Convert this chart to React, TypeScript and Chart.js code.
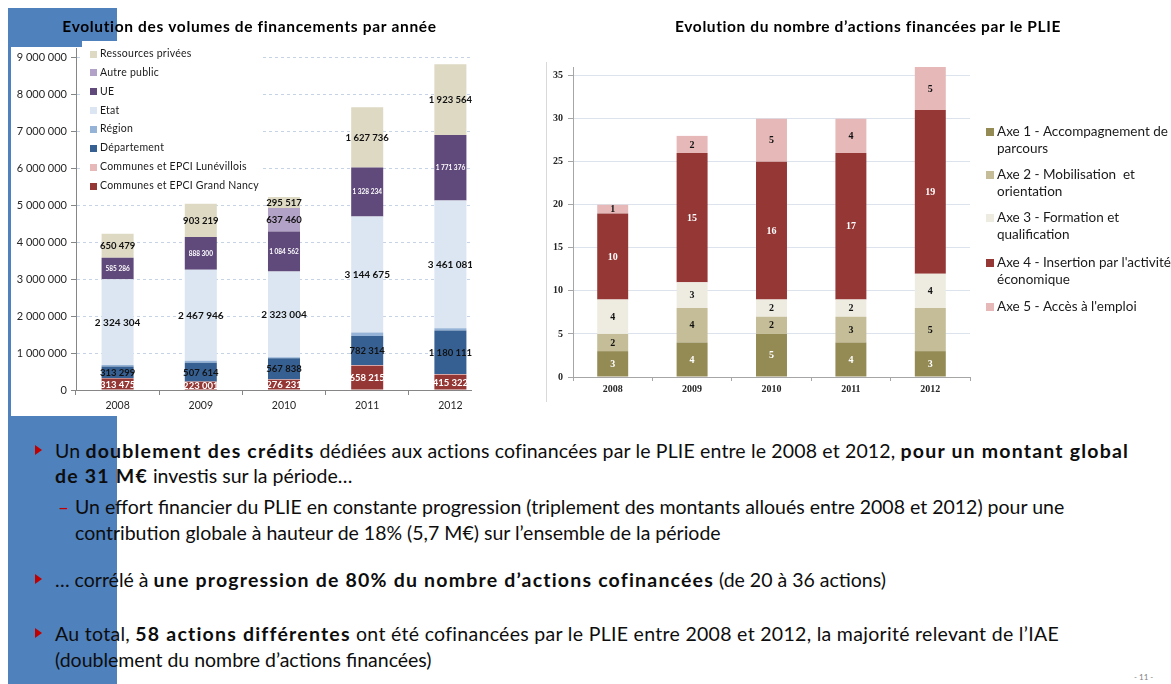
import React, { useEffect, useRef } from 'react';
import { Chart, registerables } from 'chart.js';

Chart.register(...registerables);

// ---------- DATA ----------
const years = ['2008', '2009', '2010', '2011', '2012'];

// Left chart: funding volumes (stack order bottom -> top)
const fundingNames = [
  'Communes et EPCI Grand Nancy',
  'Communes et EPCI Lunévillois',
  'Département',
  'Région',
  'Etat',
  'UE',
  'Autre public',
  'Ressources privées',
];
const grandNancy = [313475, 223001, 276231, 658215, 415322];
const luneville = [10000, 10000, 15000, 20000, 20000];
const departement = [313299, 507614, 567838, 782314, 1180111];
const region = [40000, 50000, 30000, 100000, 60000];
const etat = [2324304, 2467946, 2323004, 3144675, 3461081];
const ue = [585286, 888300, 1084562, 1328234, 1771376];
const autrePublic = [0, 0, 637460, 0, 0];
const ressourcesPrivees = [650479, 903219, 295517, 1627736, 1923564];
const fundingMax = 9250000;
const fundingTicks = [0, 1000000, 2000000, 3000000, 4000000, 5000000, 6000000, 7000000, 8000000, 9000000];

// Right chart: number of actions (stack order bottom -> top)
const axeNames = [
  'Axe 1 - Accompagnement de\nparcours',
  'Axe 2 - Mobilisation  et\norientation',
  'Axe 3 - Formation et\nqualification',
  "Axe 4 - Insertion par l'activité\néconomique",
  "Axe 5 - Accès à l'emploi",
];
const axe1 = [3, 4, 5, 4, 3];
const axe2 = [2, 4, 2, 3, 5];
const axe3 = [4, 3, 2, 2, 4];
const axe4 = [10, 15, 16, 17, 19];
const axe5 = [1, 2, 5, 4, 5];
const actionsMax = 36;
const actionsTicks = [0, 5, 10, 15, 20, 25, 30, 35];

const leftTitle = 'Evolution des volumes de financements par année';
const rightTitle = 'Evolution du nombre d’actions financées par le PLIE';

// ---------- HELPERS ----------
const fmt = (n: number) => String(Math.round(n)).replace(/\B(?=(\d{3})+(?!\d))/g, ' ');

type LabelStyle = { color: string; font: string } | null;
type DecorSpec = {
  title: { text: string; x: number; y: number; font: string; color: string; spacing: number };
  legend: {
    items: { text: string; color: string }[];
    boxX: number;
    boxSize: number;
    textX: number;
    rows: number[];
    lineGap: number;
    font: string;
    color: string;
    spacing: number;
    bg?: { x: number; y: number; w: number; h: number };
  };
  labels: LabelStyle[];
  format: (v: number) => string;
};

function makeDecor(spec: DecorSpec) {
  return {
    id: 'decor',
    beforeDatasetsDraw(chart: any) {
      const ctx = chart.ctx;
      const lg = spec.legend;
      ctx.save();
      if (lg.bg) {
        ctx.fillStyle = '#ffffff';
        ctx.fillRect(lg.bg.x, lg.bg.y, lg.bg.w, lg.bg.h);
      }
      ctx.font = lg.font;
      (ctx as any).letterSpacing = lg.spacing + 'px';
      ctx.textBaseline = 'middle';
      ctx.textAlign = 'left';
      lg.items.forEach((it, i) => {
        const y = lg.rows[i];
        ctx.fillStyle = it.color;
        ctx.fillRect(lg.boxX, Math.round(y - lg.boxSize / 2), lg.boxSize, lg.boxSize);
        ctx.fillStyle = lg.color;
        it.text.split('\n').forEach((line, k) => ctx.fillText(line, lg.textX, y + k * lg.lineGap));
      });
      ctx.restore();
    },
    afterDatasetsDraw(chart: any) {
      const ctx = chart.ctx;
      ctx.save();
      ctx.textAlign = 'center';
      ctx.textBaseline = 'middle';
      chart.data.datasets.forEach((ds: any, i: number) => {
        const st = spec.labels[i];
        if (!st) return;
        const meta = chart.getDatasetMeta(i);
        meta.data.forEach((el: any, j: number) => {
          const v = ds.data[j];
          if (!v) return;
          const p = el.getProps(['x', 'y', 'base'], true);
          ctx.font = st.font;
          ctx.fillStyle = st.color;
          ctx.fillText(spec.format(v), p.x, (p.y + p.base) / 2 + 0.5);
        });
      });
      ctx.font = spec.title.font;
      (ctx as any).letterSpacing = spec.title.spacing + 'px';
      ctx.fillStyle = spec.title.color;
      ctx.fillText(spec.title.text, spec.title.x, spec.title.y);
      ctx.restore();
    },
  };
}

function ChartCanvas({ width, height, build }: { width: number; height: number; build: () => any }) {
  const ref = useRef<HTMLCanvasElement>(null);
  useEffect(() => {
    const chart = new Chart(ref.current as HTMLCanvasElement, build());
    return () => chart.destroy();
  }, []);
  return <canvas ref={ref} width={width} height={height} style={{ width, height, display: 'block' }} />;
}

// ---------- LEFT CHART ----------
const leftColors = ['#953735', '#E6B9B8', '#376092', '#95B3D7', '#DCE6F2', '#604A7B', '#B3A2C7', '#DDD9C3'];
const leftValues = [grandNancy, luneville, departement, region, etat, ue, autrePublic, ressourcesPrivees];

function buildLeft() {
  const lblBlack = { color: '#111111', font: 'bold 9.5px Lato' };
  const lblWhite = { color: '#ffffff', font: 'bold 9.5px Lato' };
  const labels: LabelStyle[] = [
    lblWhite,
    null,
    lblBlack,
    null,
    { color: '#111111', font: 'bold 10px Lato' },
    { color: '#ffffff', font: 'bold 6.5px Lato' },
    lblBlack,
    lblBlack,
  ];
  const order = fundingNames.map((_, i) => fundingNames.length - 1 - i);
  const decor = makeDecor({
    title: { text: leftTitle, x: 238.5, y: 17, font: 'bold 15.5px Lato', color: '#000000', spacing: 0.65 },
    legend: {
      items: order.map((i) => ({ text: fundingNames[i], color: leftColors[i] })),
      boxX: 79,
      boxSize: 7,
      textX: 89,
      rows: [44, 62.5, 81.5, 100.5, 119, 138, 157, 176],
      lineGap: 0,
      font: '10.5px Lato',
      color: '#1a1a1a',
      spacing: 0.25,
      bg: { x: 71, y: 31, w: 178, h: 154 },
    },
    labels,
    format: fmt,
  });
  return {
    type: 'bar',
    data: {
      labels: years,
      datasets: fundingNames.map((n, i) => ({
        label: n,
        data: leftValues[i],
        backgroundColor: leftColors[i],
        borderWidth: 0,
        categoryPercentage: 1,
        barPercentage: 0.385,
        stack: 'funds',
      })),
    },
    options: {
      responsive: false,
      animation: false,
      events: [],
      layout: { padding: { left: 0, right: 19, top: 38.7, bottom: 0 } },
      plugins: { legend: { display: false }, title: { display: false }, tooltip: { enabled: false } },
      scales: {
        x: {
          stacked: true,
          grid: { display: true, drawOnChartArea: false, drawTicks: true, tickLength: 5, color: '#868686' },
          border: { display: true, color: '#868686' },
          ticks: { color: '#262626', font: { family: 'Lato', size: 10.5 }, padding: 4 },
          afterFit: (s: any) => {
            s.height = 26;
          },
        },
        y: {
          stacked: true,
          min: 0,
          max: fundingMax,
          afterBuildTicks: (s: any) => {
            s.ticks = fundingTicks.map((v) => ({ value: v }));
          },
          ticks: {
            callback: (v: any) => fmt(Number(v)),
            color: '#262626',
            font: { family: 'Lato', size: 11 },
            padding: 4,
          },
          grid: { color: '#C6D3E4', tickColor: '#868686', tickLength: 5 },
          border: { display: true, color: '#868686', dash: [3, 3] },
          afterFit: (s: any) => {
            s.width = 65;
          },
        },
      },
    },
    plugins: [decor],
  };
}

// ---------- RIGHT CHART ----------
const rightColors = ['#948A54', '#C4BD97', '#EEECE1', '#953735', '#E6B9B8'];
const rightValues = [axe1, axe2, axe3, axe4, axe5];

function buildRight() {
  const f = 'bold 10px "Liberation Serif"';
  const labels: LabelStyle[] = [
    { color: '#ffffff', font: f },
    { color: '#111111', font: f },
    { color: '#111111', font: f },
    { color: '#ffffff', font: f },
    { color: '#111111', font: f },
  ];
  const decor = makeDecor({
    title: { text: rightTitle, x: 321, y: 17, font: 'bold 15.5px Lato', color: '#000000', spacing: 0.6 },
    legend: {
      items: axeNames.map((n, i) => ({ text: n, color: rightColors[i] })),
      boxX: 439,
      boxSize: 8,
      textX: 450,
      rows: [122, 165, 208, 253, 297],
      lineGap: 17,
      font: '13.5px Lato',
      color: '#1a1a1a',
      spacing: 0,
    },
    labels,
    format: (v: number) => String(v),
  });
  return {
    type: 'bar',
    data: {
      labels: years,
      datasets: axeNames.map((n, i) => ({
        label: n.replace('\n', ' '),
        data: rightValues[i],
        backgroundColor: rightColors[i],
        borderWidth: 0,
        categoryPercentage: 1,
        barPercentage: 0.39,
        stack: 'axes',
      })),
    },
    options: {
      responsive: false,
      animation: false,
      events: [],
      layout: { padding: { left: 0, right: 201, top: 57, bottom: 0 } },
      plugins: { legend: { display: false }, title: { display: false }, tooltip: { enabled: false } },
      scales: {
        x: {
          stacked: true,
          grid: { display: true, drawOnChartArea: false, drawTicks: true, tickLength: 4, color: '#A6A6A6' },
          border: { display: true, color: '#A6A6A6' },
          ticks: { color: '#262626', font: { family: 'Liberation Serif', size: 10, weight: 'bold' }, padding: 2 },
          afterFit: (s: any) => {
            s.height = 20;
          },
        },
        y: {
          stacked: true,
          min: 0,
          max: actionsMax,
          afterBuildTicks: (s: any) => {
            s.ticks = actionsTicks.map((v) => ({ value: v }));
          },
          ticks: {
            color: '#262626',
            font: { family: 'Liberation Serif', size: 10, weight: 'bold' },
            padding: 5,
          },
          grid: { color: '#DCE3EC', tickColor: '#A6A6A6', tickLength: 5 },
          border: { display: true, color: '#A6A6A6' },
          afterFit: (s: any) => {
            s.width = 26;
          },
        },
      },
    },
    plugins: [decor],
  };
}

// ---------- TEXT ----------
const abs = (left: number, top: number, extra: any = {}) => ({ position: 'absolute' as const, left, top, ...extra });

const TEXT_SIZE = 19.5;

function B({ children }: { children: any }) {
  return <b style={{ letterSpacing: 1.2 }}>{children}</b>;
}

function Line({ x, y, children, spacing = 0 }: { x: number; y: number; children: any; spacing?: number }) {
  return (
    <div
      style={abs(x, y - 13, {
        height: 26,
        lineHeight: '26px',
        fontSize: TEXT_SIZE,
        whiteSpace: 'nowrap',
        color: '#0d0d0d',
        letterSpacing: spacing,
      })}
    >
      {children}
    </div>
  );
}

function Bullet({ y }: { y: number }) {
  return (
    <div
      style={abs(35, y - 6, {
        width: 0,
        height: 0,
        borderLeft: '7px solid #C00000',
        borderTop: '5.5px solid transparent',
        borderBottom: '5.5px solid transparent',
      })}
    />
  );
}

export default function App() {
  return (
    <div
      style={{
        position: 'absolute',
        left: 0,
        top: 0,
        width: 1171,
        height: 684,
        overflow: 'hidden',
        background: '#ffffff',
        fontFamily: 'Lato, "Noto Sans", sans-serif',
      }}
    >
      <div style={abs(8, 8, { width: 109, height: 676, background: '#4F81BD' })} />
      <div style={abs(11, 47, { width: 461, height: 369, background: '#ffffff' })} />
      <div style={abs(82, 41, { width: 35, height: 7, background: '#ffffff' })} />
      <div style={abs(11, 10, { width: 461, height: 406, overflow: 'hidden' })}>
        <ChartCanvas width={500} height={406} build={buildLeft} />
      </div>
      <div style={abs(546, 62, { width: 1, height: 340, background: '#D9D9D9' })} />
      <div style={abs(547, 10, { width: 624, height: 387 })}>
        <ChartCanvas width={624} height={387} build={buildRight} />
      </div>

      <Bullet y={451} />
      <Line x={55} y={451} spacing={0.15}>
        Un <B>doublement des crédits</B> dédiées aux actions cofinancées par le PLIE entre le 2008 et 2012, <B>pour un montant global</B>
      </Line>
      <Line x={55} y={476}>
        <B>de 31 M€</B> investis sur la période…
      </Line>
      <div style={abs(58, 494, { fontSize: 19, lineHeight: '26px', color: '#C00000' })}>–</div>
      <Line x={75} y={507}>
        Un effort financier du PLIE en constante progression (triplement des montants alloués entre 2008 et 2012) pour une
      </Line>
      <Line x={75} y={533}>
        contribution globale à hauteur de 18% (5,7 M€) sur l’ensemble de la période
      </Line>
      <Bullet y={580} />
      <Line x={55} y={580}>
        … corrélé à <B>une progression de 80% du nombre d’actions cofinancées</B> (de 20 à 36 actions)
      </Line>
      <Bullet y={634} />
      <Line x={55} y={634} spacing={0.3}>
        Au total, <B>58 actions différentes</B> ont été cofinancées par le PLIE entre 2008 et 2012, la majorité relevant de l’IAE
      </Line>
      <Line x={55} y={660}>
        (doublement du nombre d’actions financées)
      </Line>
      <div style={abs(1134, 672, { fontSize: 8, color: '#7f7f7f', whiteSpace: 'nowrap' })}>- 11 -</div>
    </div>
  );
}
